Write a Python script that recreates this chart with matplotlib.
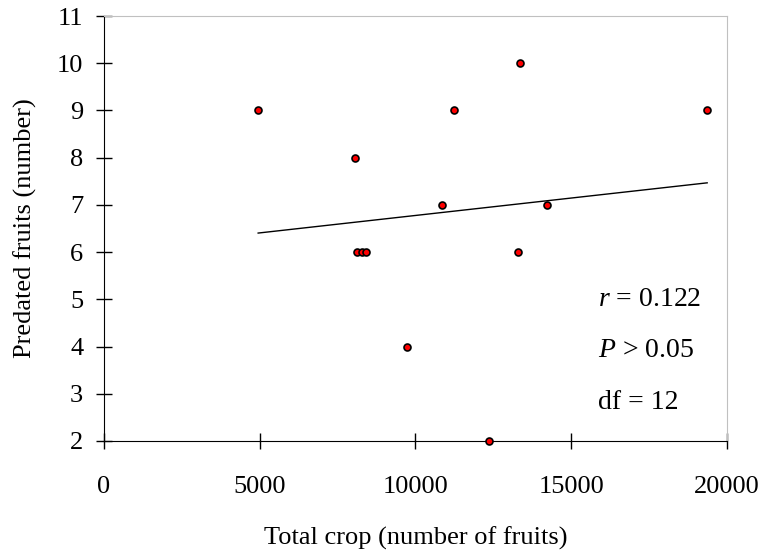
import numpy as np
import matplotlib.pyplot as plt

# total crop (fruits) and predated fruits per plant
crop = [4950, 11250, 8050, 10850, 8110, 8280, 8420, 13300, 9740, 12370, 19370, 14230, 13365]
predated = [9, 9, 8, 7, 6, 6, 6, 6, 4, 2, 9, 7, 10]
xticks = [0, 5000, 10000, 15000, 20000]
yticks = list(range(2, 12))
stats = ["$r$ = 0.122", "$P$ > 0.05", "df = 12"]

plt.rcParams['font.family'] = ['Liberation Serif', 'DejaVu Serif']
plt.rcParams['mathtext.fontset'] = 'custom'
plt.rcParams['mathtext.it'] = 'Liberation Serif:italic'
plt.rcParams['mathtext.rm'] = 'Liberation Serif'

fig = plt.figure(figsize=(7.66, 5.54), dpi=100)
ax = fig.add_axes([0.1358, 0.204, 0.813, 0.767])

x = np.array(crop, dtype=float)
y = np.array(predated, dtype=float)
slope, icpt = np.polyfit(x, y, 1)
xl = np.array([x.min(), x.max()])
ax.plot(xl, icpt + slope * xl, color='black', lw=1)

ax.plot(x, y, 'o', ms=5, mfc='red', mec='black', mew=1.2, zorder=3, clip_on=False)

ax.set_xlim(0, 20000)
ax.set_ylim(2, 11)
ax.set_xticks(xticks)
ax.set_yticks(yticks)
ax.tick_params(direction='inout', length=12, width=1, labelsize=19, color='black')
ax.tick_params(axis='x', pad=19)
ax.tick_params(axis='y', pad=9)

for s in ['top', 'right']:
    ax.spines[s].set_color('#c0c0c0')
for s in ['left', 'bottom']:
    ax.spines[s].set_color('black')

ax.set_xlabel('Total crop (number of fruits)', fontsize=19, labelpad=21)
ax.set_ylabel('Predated fruits (number)', fontsize=19, labelpad=14)

for i, t in enumerate(stats):
    ax.text(15860, 5.0 - i * 1.09, t, fontsize=20, va='center', ha='left')

fig.savefig('out.png', dpi=100)
